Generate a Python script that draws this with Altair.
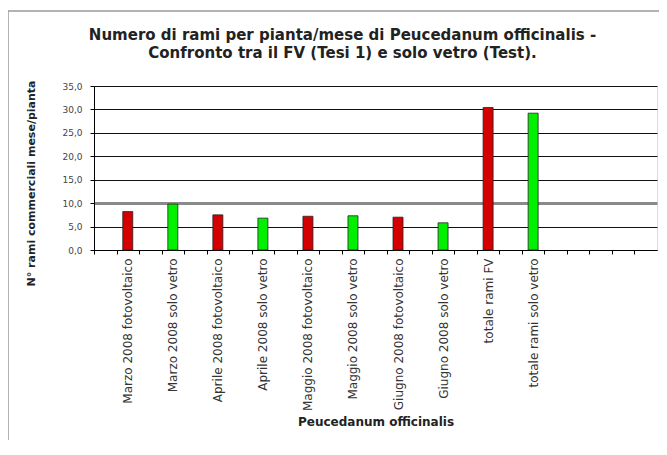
import altair as alt
import pandas as pd

# ---- data ----
categories = [
    "Marzo 2008 fotovoltaico",
    "Marzo 2008 solo vetro",
    "Aprile 2008 fotovoltaico",
    "Aprile 2008 solo vetro",
    "Maggio 2008 fotovoltaico",
    "Maggio 2008 solo vetro",
    "Giugno 2008 fotovoltaico",
    "Giugno 2008 solo vetro",
    "totale rami FV",
    "totale rami solo vetro",
]
values = [8.2, 9.8, 7.5, 6.8, 7.2, 7.3, 7.0, 5.8, 30.4, 29.2]
series = ["FV", "vetro", "FV", "vetro", "FV", "vetro", "FV", "vetro", "FV", "vetro"]
y_ticks = [0, 5, 10, 15, 20, 25, 30, 35]
n_slots = 25  # Excel category slots (bars sit in every other slot)

title_lines = [
    "Numero di rami per pianta/mese di Peucedanum officinalis -",
    "Confronto tra il FV (Tesi 1) e solo vetro (Test).",
]
x_title = "Peucedanum officinalis"
y_title = "N° rami commerciali mese/pianta"

# ---- build slot domain: labelled slots hold bars, others blank ----
domain = []
for i in range(n_slots):
    k = (i - 1) // 2
    if i % 2 == 1 and k < len(categories):
        domain.append(categories[k])
    else:
        domain.append(" " * (i + 1))

df = pd.DataFrame({"cat": categories, "val": values, "serie": series})

W, H = 563, 164
slot = W / n_slots
FONT = "DejaVu Sans"

x_enc = alt.X(
    "cat:N",
    sort=domain,
    scale=alt.Scale(domain=domain, paddingInner=0, paddingOuter=0),
    axis=alt.Axis(
        title=x_title,
        titleFontSize=12,
        titleFontWeight="bold",
        titleFont=FONT,
        titleColor="#222",
        titlePadding=6,
        labelAngle=270,
        labelFontSize=12,
        labelFont=FONT,
        labelColor="#333",
        labelPadding=4,
        labelOffset=slot / 2,
        tickOffset=-slot / 2,
        tickSize=4,
        tickColor="#000",
        domainColor="#000",
        labelOverlap=False,
        grid=False,
    ),
)

y_enc = alt.Y(
    "val:Q",
    scale=alt.Scale(domain=[0, 35], nice=False),
    axis=alt.Axis(
        values=y_ticks,
        title=y_title,
        titleFontSize=11,
        titleFontWeight="bold",
        titleFont=FONT,
        titleColor="#222",
        titlePadding=25,
        titleY=97,
        labelExpr="replace(format(datum.value, '.1f'), '.', ',')",
        labelFontSize=9,
        labelFont=FONT,
        labelColor="#444",
        labelPadding=8,
        tickSize=4,
        tickColor="#000",
        domainColor="#000",
        grid=True,
        gridColor={"condition": {"test": "datum.value === 10", "value": "#8a8a8a"}, "value": "#111"},
        gridWidth={"condition": {"test": "datum.value === 10", "value": 3}, "value": 1},
    ),
)

bars = alt.Chart(df).mark_bar(size=10, stroke="#222", strokeWidth=0.8).encode(
    x=x_enc,
    y=y_enc,
    color=alt.Color(
        "serie:N",
        scale=alt.Scale(domain=["FV", "vetro"], range=["#D40000", "#00F000"]),
        legend=None,
    ),
)

frame_df = pd.DataFrame({"f": [0]})
frame_left = alt.Chart(frame_df).mark_rule(color="#9a9a9a", strokeWidth=1.5).encode(
    x=alt.value(-86), y=alt.value(-75), y2=alt.value(400)
)
frame_top = alt.Chart(frame_df).mark_rule(color="#9a9a9a", strokeWidth=1.5).encode(
    x=alt.value(-86), x2=alt.value(700), y=alt.value(-75)
)

chart = (
    alt.layer(bars, frame_left, frame_top)
    .properties(
        width=W,
        height=H,
        autosize=alt.AutoSizeParams(type="none"),
        padding={"left": 86, "top": 78, "right": 2, "bottom": 190},
        title=alt.TitleParams(
            text=title_lines,
            fontSize=15,
            fontWeight="bold",
            font=FONT,
            color="#222",
            anchor="middle",
            dx=-33,
            offset=-51,
            lineHeight=18,
        ),
    )
    .configure_view(fill="#C0C0C0", stroke=None)
    .configure(background="white")
)

chart.save("out.html", embed_options={"renderer": "svg", "actions": False})
